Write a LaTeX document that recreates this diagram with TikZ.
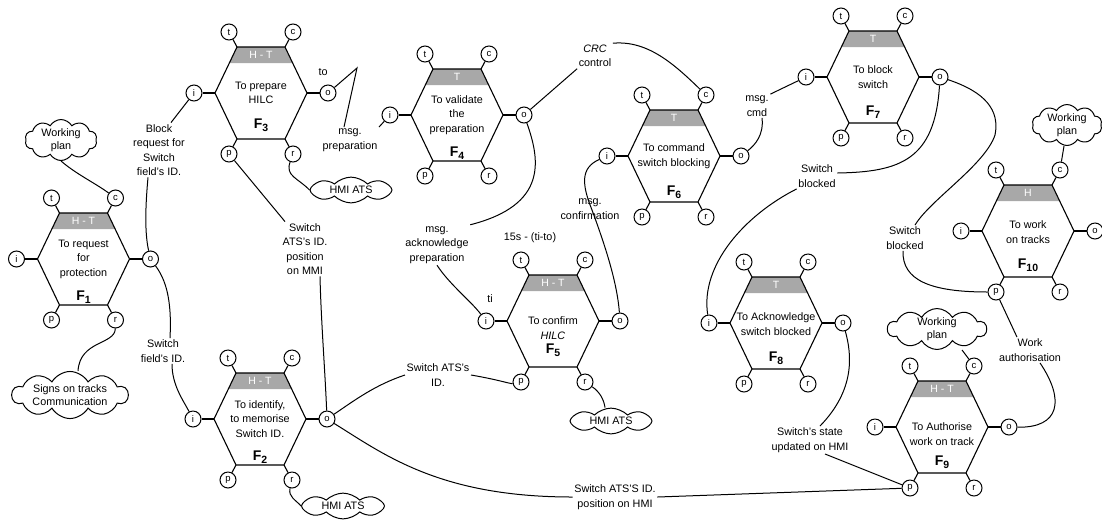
\documentclass[tikz,border=0pt]{standalone}
\usepackage{fontspec}
\setmainfont{Liberation Sans}
\usetikzlibrary{shapes.symbols}
\definecolor{bandgray}{RGB}{168,168,168}
\tikzset{
 hexline/.style={line width=1.1pt},
 port/.style={circle,draw,line width=1pt,minimum size=16pt,inner sep=0pt,fill=white,font=\fontsize{9.5}{9.5}\selectfont},
 lbl/.style={align=center,inner sep=1.5pt,font=\fontsize{10.8}{14.5}\selectfont},
 ftext/.style={align=center,inner sep=0pt,font=\fontsize{10.8}{14.5}\selectfont},
 flab/.style={inner sep=0pt,font=\fontsize{14}{14}\selectfont\bfseries},
 bandtxt/.style={text=white,inner sep=0pt,font=\fontsize{10.5}{10.5}\selectfont},
 conn/.style={line width=1pt},
 cloudbox/.style={cloud,cloud ignores aspect,draw,line width=1pt,cloud puffs=10,cloud puff arc=120,align=center,inner sep=0pt,font=\fontsize{10.8}{13}\selectfont},
 hmicloud/.style={cloud,cloud ignores aspect,draw,line width=1pt,cloud puffs=8,cloud puff arc=90,align=center,inner sep=2pt,font=\fontsize{10.8}{13}\selectfont},
}
\newcommand\Fsub[1]{F\raisebox{-3.5pt}{\fontsize{10.5}{10.5}\selectfont #1}}
% #1 name, #2 x, #3 y, #4 band text, #5 text, #6 text y offset, #7 F number, #8 F y offset
\newcommand\framfn[8]{%
\begin{scope}[shift={(#2,#3)}]
 \fill[bandgray] (-24,-46) -- (24,-46) -- (31.65,-30) -- (-31.65,-30) -- cycle;
 \node[bandtxt] (#1band) at (0,-38) {#4};
 \draw[hexline] (-46,0) -- (-24,-46) -- (24,-46) -- (46,0) -- (24,46) -- (-24,46) -- cycle;
 \node[port] (#1t) at (-32,-61) {t};
 \node[port] (#1c) at (32,-61) {c};
 \node[port] (#1i) at (-67,0) {i};
 \node[port] (#1o) at (67,0) {o};
 \node[port] (#1p) at (-32,61) {p};
 \node[port] (#1r) at (32,61) {r};
 \draw[hexline] (-24,-46) -- (#1t);
 \draw[hexline] (24,-46) -- (#1c);
 \draw[hexline] (-46,0) -- (#1i);
 \draw[hexline] (46,0) -- (#1o);
 \draw[hexline] (-24,46) -- (#1p);
 \draw[hexline] (24,46) -- (#1r);
 \node[ftext] (#1txt) at (0,#6) {#5};
 \node[flab] (#1lab) at (0,#8) {\Fsub{#7}};
\end{scope}}
\begin{document}
\begin{tikzpicture}[x=1pt,y=-1pt]
\useasboundingbox (0,0) rectangle (1102,523);

\framfn{F1}{83.5}{259}{H - T}{To request\\for\\protection}{0}{1}{38}
\framfn{F2}{260}{419}{H - T}{To identify,\\to memorise\\Switch ID.}{0}{2}{38}
\framfn{F3}{261}{93}{H - T}{To prepare\\HILC}{0}{3}{32}
\framfn{F4}{457}{115}{T}{To validate\\the\\preparation}{0}{4}{38}
\framfn{F5}{553}{321}{H - T}{To confirm\\\textit{HILC}}{7}{5}{29}
\framfn{F6}{674}{156}{T}{To command\\switch blocking}{0}{6}{36}
\framfn{F7}{873}{77}{T}{To block\\switch}{0}{7}{35}
\framfn{F8}{776}{323}{T}{To Acknowledge\\switch blocked}{1}{8}{35}
\framfn{F9}{942}{427}{H - T}{To Authorise\\work on track}{7}{9}{35}
\framfn{F10}{1028}{231}{H}{To work\\on tracks}{1}{10}{34}

% clouds
\node[cloudbox,minimum width=72pt,minimum height=32pt] (cWp1) at (61,140) {Working\\plan};
\node[cloudbox,minimum width=116pt,minimum height=36pt] (cSigns) at (70,395) {Signs on tracks\\Communication};
\node[hmicloud,minimum width=82pt,minimum height=22pt] (cHmi3) at (351,190) {HMI ATS};
\node[hmicloud,minimum width=83pt,minimum height=22pt] (cHmi2) at (343,506) {HMI ATS};
\node[hmicloud,minimum width=82pt,minimum height=22pt] (cHmi5) at (611,421) {HMI ATS};
\node[cloudbox,minimum width=70pt,minimum height=32pt] (cWp10) at (1067,125) {Working\\plan};
\node[cloudbox,minimum width=99pt,minimum height=38pt] (cWp9) at (937,329) {Working\\plan};

% labels
\node[lbl] (lBlock) at (159,150) {Block\\request for\\Switch\\field's ID.};
\node[lbl] (lSfid) at (163,351) {Switch\\field's ID.};
\node[lbl] (lTo) at (323,72) {to};
\node[lbl] (lMsgPrep) at (350,140) {msg.\\preparation};
\node[lbl] (lAtsMmi) at (305,249) {Switch\\ATS's ID.\\position\\on MMI};
\node[lbl] (lAts) at (438,375) {Switch ATS's\\ID.};
\node[lbl] (lAtsHmi) at (615,497) {Switch ATS'S ID.\\position on HMI};
\node[lbl] (lCrc) at (595,56) {\textit{CRC}\\control};
\node[lbl] (lAck) at (437,245) {msg.\\acknowledge\\preparation};
\node[lbl] (l15) at (530,238) {15s - (ti-to)};
\node[lbl] (lti) at (490,299) {ti};
\node[lbl] (lConf) at (590,209) {msg.\\confirmation};
\node[lbl] (lCmd) at (757,106) {msg.\\cmd};
\node[lbl] (lSbA) at (817,176) {Switch\\blocked};
\node[lbl] (lSbB) at (905,238) {Switch\\blocked};
\node[lbl] (lWork) at (1030,350) {Work\\authorisation};
\node[lbl] (lState) at (810,440) {Switch's state\\updated on HMI};

% connectors
\draw[conn] (cWp1.south) .. controls (76,174) and (95,183) .. (F1c);
\draw[conn] (F1o) .. controls (144,230) and (146,200) .. ([xshift=-11pt]lBlock.south);
\draw[conn] ([xshift=12pt]lBlock.north) -- (F3i);
\draw[conn] (F1o) .. controls (166,280) and (172,300) .. ([xshift=7pt]lSfid.north);
\draw[conn] ([xshift=9pt]lSfid.south) .. controls (172,385) and (183,400) .. (F2i);
\draw[conn] (F3o) -- (357,68) -- ([xshift=-6pt]lMsgPrep.north);
\draw[conn] (lMsgPrep.north east) -- (F4i);
\draw[conn] (F3p) -- ([xshift=-20pt]lAtsMmi.north);
\draw[conn] ([xshift=15pt]lAtsMmi.south) .. controls (321,320) and (325,370) .. (F2o);
\draw[conn] (F2o) .. controls (355,400) and (375,385) .. (lAts.west);
\draw[conn] (lAts.east) .. controls (500,380) and (510,384) .. (F5p);
\draw[conn] (F2o) .. controls (385,455) and (440,497) .. (lAtsHmi.west);
\draw[conn] (lAtsHmi.east) -- (F9p);
\draw[conn] (F4o) -- (lCrc.south west);
\draw[conn] (lCrc.north east) .. controls (648,40) and (675,65) .. (F6c);
\draw[conn] (F4o) .. controls (540,160) and (548,205) .. (lAck.north east);
\draw[conn] (lAck.south) .. controls (450,285) and (470,300) .. (F5i);
\draw[conn] (F5o) .. controls (617,280) and (603,240) .. (592,210) .. controls (582,185) and (580,168) .. (F6i);
\draw[conn] (F6o) .. controls (755,145) and (764,135) .. ([xshift=5pt]lCmd.south);
\draw[conn] (lCmd.north east) -- (F7i);
\draw[conn] (F7o) .. controls (935,160) and (900,172) .. ([yshift=3pt]lSbA.east);
\draw[conn] (lSbA.south west) .. controls (745,215) and (700,265) .. (F8i);
\draw[conn] (F7o) .. controls (985,92) and (1000,110) .. (995,135) .. controls (985,165) and (930,200) .. ([xshift=10pt]lSbB.north);
\draw[conn] ([xshift=-2pt]lSbB.south) .. controls (902,280) and (930,292) .. (F10p);
\draw[conn] (F10p) -- ([xshift=-13pt]lWork.north);
\draw[conn] ([xshift=10pt]lWork.south) .. controls (1065,400) and (1060,428) .. (F9o);
\draw[conn] (F8o) .. controls (852,355) and (855,390) .. ([xshift=10pt]lState.north);
\draw[conn] ([xshift=15pt]lState.south) -- (F9p);
\draw[conn] (F1r) .. controls (115,345) and (80,340) .. ([xshift=8pt]cSigns.north);
\draw[conn] (F3r) .. controls (285,176) and (298,178) .. (cHmi3.west);
\draw[conn] (F2r) .. controls (288,497) and (296,500) .. (cHmi2.west);
\draw[conn] (F5r) .. controls (600,392) and (604,400) .. ([xshift=-6pt]cHmi5.north);
\draw[conn] ([xshift=-3pt]cWp10.south) -- (F10c);
\draw[conn] ([xshift=25pt]cWp9.south) -- (F9c);
\end{tikzpicture}
\end{document}
